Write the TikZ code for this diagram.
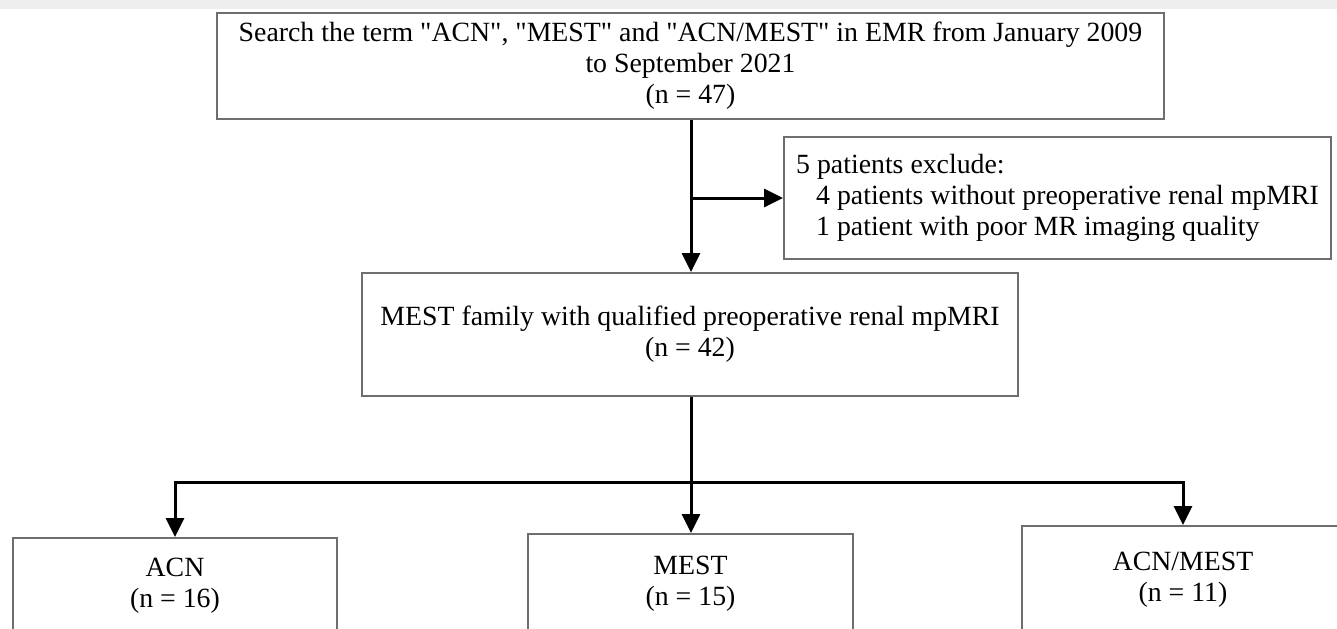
\documentclass[tikz,border=0pt]{standalone}
\usepackage{fontspec}
\setmainfont{Liberation Serif}[Ligatures=TeXOff]
\usetikzlibrary{arrows.meta}
\definecolor{boxline}{HTML}{6E6E6E}
\definecolor{band}{HTML}{EEEEEE}
\begin{document}
\begin{tikzpicture}[x=0.5pt,y=-0.5pt,
  box/.style={draw=boxline,line width=1pt,rectangle,inner sep=0pt,align=center,
    font=\fontsize{13.9}{15.5}\selectfont,fill=white},
  arr/.style={line width=1.5pt,-{Triangle[length=9.5pt,width=9pt]}},
  ln/.style={line width=1.5pt}]
\useasboundingbox (0,0) rectangle (1337,628);
\clip (0,0) rectangle (1337,628);
\fill[band] (0,0) rectangle (1337,9);
\node[box,minimum width=473.5pt,minimum height=53pt] (top) at (690.5,66)
  {Search the term "ACN", "MEST" and "ACN/MEST" in EMR from January 2009\\to September 2021\\(n = 47)};
\node[box,minimum width=273.5pt,minimum height=61pt,align=left] (excl) at (1057.5,198)
  {5 patients exclude:\\\hspace*{10pt}4 patients without preoperative renal mpMRI\\\hspace*{10pt}1 patient with poor MR imaging quality};
\node[box,minimum width=328pt,minimum height=61.5pt] (mid) at (690,334.5)
  {MEST family with qualified preoperative renal mpMRI\\(n = 42)};
\node[box,minimum width=162pt,minimum height=47.5pt] (acn) at (175,585.5)
  {ACN\\(n = 16)};
\node[box,minimum width=162.5pt,minimum height=49.5pt] (mest) at (690.5,583.5)
  {MEST\\(n = 15)};
\node[box,minimum width=161pt,minimum height=53.5pt] (am) at (1183,579.5)
  {ACN/MEST\\(n = 11)};
\coordinate (b1) at (691,198);
\coordinate (j) at (691,482);
\draw[arr] (top.south -| b1) -- (mid.north -| b1);
\draw[arr] (b1) -- (excl.west);
\draw[ln] (mid.south -| j) -- (j);
\draw[arr] (j) -| (acn.north);
\draw[arr] (j) -| (am.north);
\draw[arr] (j) -- (mest.north -| j);
\end{tikzpicture}
\end{document}
